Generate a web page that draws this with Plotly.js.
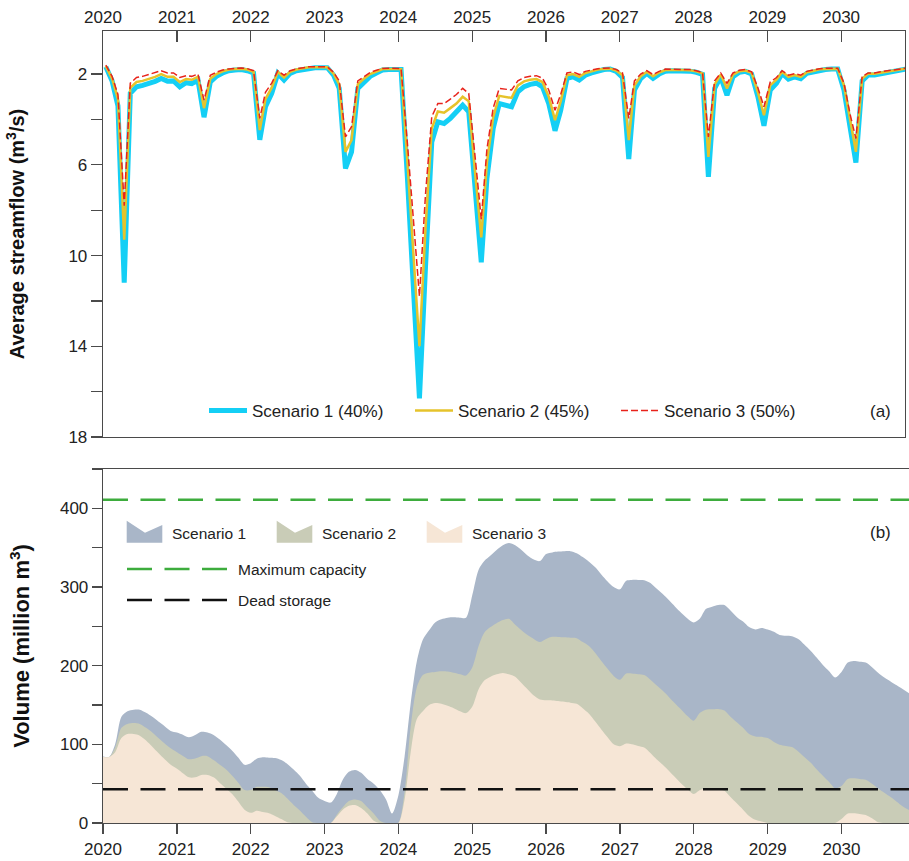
<!DOCTYPE html>
<html>
<head>
<meta charset="utf-8">
<script src="https://cdn.plot.ly/plotly-3.0.1.min.js"></script>
<style>html,body{margin:0;padding:0;background:#fff;}</style>
</head>
<body>
<div id="chart" style="width:909px;height:861px;"></div>
<script>
// ---------- DATA ----------
// Average monthly streamflow (m3/s), Jan 2020 .. Nov 2030
const streamS1 = [1.68,2.3,3.4,11.2,2.85,2.56,2.5,2.42,2.32,2.19,2.31,2.3,
  2.56,2.38,2.42,2.26,3.9,2.34,2.1,1.95,1.85,1.82,1.80,1.85,
  1.95,4.9,3.44,2.85,1.97,2.26,1.97,1.85,1.80,1.72,1.72,1.72,
  1.72,2.04,2.63,6.16,5.43,2.63,2.34,2.1,1.95,1.82,1.80,1.78,
  1.80,6.5,11.5,16.3,10.5,5.0,4.1,4.18,3.95,3.7,3.37,3.66,
  7.0,10.3,6.6,4.4,3.3,3.35,3.44,2.78,2.55,2.45,2.4,2.56,
  3.3,4.5,3.6,2.19,2.12,2.26,2.05,1.95,1.85,1.80,1.78,1.88,
  2.15,5.75,2.7,2.2,1.97,2.19,2.0,1.87,1.85,1.85,1.86,1.87,
  1.92,2.01,6.53,2.63,2.12,2.93,2.12,1.92,1.88,2.0,3.0,4.28,
  2.71,2.4,1.97,2.22,2.12,2.2,1.97,1.9,1.82,1.80,1.78,1.78,
  2.7,4.5,5.9,2.3,2.04,2.04,1.99,1.94,1.89,1.84,1.78];
const streamS2 = [1.65,2.2,3.1,9.3,2.6,2.35,2.3,2.22,2.12,2.0,2.12,2.12,
  2.35,2.22,2.25,2.12,3.5,2.2,2.0,1.88,1.8,1.78,1.76,1.8,
  1.9,4.47,3.1,2.6,1.9,2.15,1.9,1.8,1.76,1.7,1.7,1.7,
  1.7,1.98,2.45,5.43,4.91,2.45,2.2,2.0,1.88,1.78,1.77,1.76,
  1.78,5.8,10.0,14.0,8.8,4.4,3.65,3.7,3.5,3.3,3.0,3.2,
  6.3,9.2,5.9,3.9,2.96,3.0,3.05,2.5,2.32,2.25,2.22,2.35,
  3.0,4.03,3.2,2.05,2.0,2.12,1.95,1.88,1.8,1.77,1.76,1.84,
  2.05,4.91,2.5,2.1,1.9,2.1,1.93,1.82,1.81,1.81,1.82,1.83,
  1.88,1.97,5.65,2.45,2.02,2.63,2.02,1.87,1.84,1.95,2.8,3.81,
  2.5,2.25,1.9,2.12,2.04,2.12,1.92,1.86,1.79,1.77,1.76,1.76,
  2.5,4.1,5.43,2.2,1.98,1.98,1.94,1.9,1.85,1.81,1.76];
const streamS3 = [1.6,2.1,2.9,7.8,2.4,2.15,2.1,2.02,1.95,1.85,1.95,1.95,
  2.15,2.07,2.1,2.0,3.15,2.05,1.92,1.82,1.77,1.75,1.73,1.76,
  1.85,3.95,2.8,2.4,1.85,2.05,1.85,1.77,1.73,1.68,1.68,1.68,
  1.68,1.92,2.3,4.77,4.32,2.3,2.1,1.93,1.83,1.75,1.74,1.73,
  1.75,5.0,8.5,11.8,7.3,3.88,3.3,3.3,3.1,2.9,2.63,2.85,
  5.6,8.4,5.3,3.5,2.63,2.66,2.7,2.3,2.15,2.1,2.07,2.18,
  2.7,3.59,2.9,1.95,1.9,2.02,1.88,1.82,1.76,1.74,1.73,1.8,
  1.95,3.95,2.3,2.0,1.85,2.02,1.88,1.78,1.78,1.78,1.79,1.8,
  1.85,1.93,4.77,2.3,1.95,2.41,1.95,1.83,1.8,1.9,2.6,3.44,
  2.35,2.15,1.85,2.05,1.98,2.05,1.88,1.82,1.76,1.74,1.74,1.74,
  2.4,3.8,4.84,2.1,1.95,1.95,1.9,1.86,1.82,1.78,1.74];

// Reservoir volume (million m3), Jan 2020 .. Dec 2030
const volumeS1 = [84.5,84,100,135,142,144,144,140,135,129,123,117,
  115,112,109,112,116,115,112,106,99,92,83,74,
  76,82,83.5,83,82.5,80,75,68,60,50,41,32,
  28,26,36,55,65,67.5,64,56,50,42,30,12,
  35,85,150,205,233,245,255,259,261,261.5,261,261,
  290,322,333,340,347,353,356,353,347,340,335,333,
  342,344,345,345.5,345.6,343,338,332,325,316,307,300,
  297,308,309,309,308.7,305,298,291,283,275,267,260,
  255,260,272,275,277,277,270,262,256,249,246,248,
  246,243,239,238,237.5,234,227,219,210,201,193,185,
  192,204,206,205,204,198,191,185,180,175,170,165];
const volumeS2 = [84,84,96,121,126,127,126,121,115,108,101,95,
  90,85,81,82,85,85,80,74,68,60,51,42,
  42,46,46,45.5,42,38,31,23,16,8,1,0,
  0,0,10,20,28,30,28,20,12,3,0,0,
  0,40,120,172,188,191,192,193,192.7,191,189,187.5,
  198,225,242,249,254,258,259.5,252,245,239,234,230,
  234,236.6,236.5,236,235.5,235,230,225,216,206,196,187,
  182,190,190,189,188,182,175,168,160,152,144,136,
  130,140,144,144.5,145,143,135,128,121,113,110,109.5,
  108,103,99.5,98,96.5,91,84,77,68,60,52,44,
  47,56,57,56,55,50,44,38.5,33,27,21,16.6];
const volumeS3 = [84,84,90,108,113,113,111,105,97,89,81,74,
  69,63,58,58,61,61,58,51,44,37,27,17,
  13,15.7,14,12.5,9,5,1,0,0,0,0,0,
  0,0,8,17,22,22.9,19,12,3,0,0,0,
  0,30,88,132,142,150,152.5,151.5,149,146,142,139.7,
  148,170,181,186,189,190.7,189,186,178,170,162,157,
  156,155.8,155,154,153,151.6,146,139,129,119,109,100,
  97.5,101,100,98,96,89,81,74,66,58,50,43,
  37,42,44,43.5,43,41,33,25,17,9,4,2,
  0,0,0,0,0,0,0,0,0,0,0,0,
  5,12,12.3,11.5,10.2,6,1,0,0,0,0,0];

const maxCapacity = 411;   // million m3
const deadStorage = 43;    // million m3
const yearLabels = ['2020','2021','2022','2023','2024','2025','2026','2027','2028','2029','2030'];
const flowNames = ['Scenario 1 (40%)','Scenario 2 (45%)','Scenario 3 (50%)'];
const volNames = ['Scenario 1','Scenario 2','Scenario 3'];
const lineNames = ['Maximum capacity','Dead storage'];
const panelTags = ['(a)','(b)'];

// ---------- HELPERS ----------
function monthDate(i, day){
  const y = 2020 + Math.floor(i/12);
  const m = (i % 12) + 1;
  return y + '-' + String(m).padStart(2,'0') + '-' + day;
}
const flowDates = streamS1.map((_, i) => monthDate(i, '15'));
const volDates = volumeS1.map((_, i) => monthDate(i, '01'));
const yearTickVals = yearLabels.map(y => y + '-01-01');
const volStart = volDates[0], volEnd = volDates[volDates.length-1];

const FONT = 'Arial, "Liberation Sans", Helvetica, sans-serif';
const AX = '#4a4a4a';
const cyan = '#14cff5', gold = '#e6c32b', red = '#e8231b';
const areaBlue = '#a9b6c8', areaGreen = '#c9ccb7', areaPeach = '#f6e6d6';
const green = '#3dac3d';

// pixel helpers for paper positioning (layout only)
const ML = 103, MT = 31, MB = 38, W = 909, H = 861;
const PW = W - ML, PH = H - MT - MB;
const px = v => (v - ML) / PW;
const py = v => (H - MB - v) / PH;

// ---------- TRACES ----------
const traces = [
  {x: flowDates, y: streamS1, name: flowNames[0], type:'scatter', mode:'lines',
   line:{color:cyan, width:5}, xaxis:'x', yaxis:'y', showlegend:true},
  {x: flowDates, y: streamS2, name: flowNames[1], type:'scatter', mode:'lines',
   line:{color:gold, width:2.5}, xaxis:'x', yaxis:'y', showlegend:true},
  {x: flowDates, y: streamS3, name: flowNames[2], type:'scatter', mode:'lines',
   line:{color:red, width:1.5, dash:'7px,3px'}, xaxis:'x', yaxis:'y', showlegend:true},

  {x: volDates, y: volumeS1, name: volNames[0], type:'scatter', mode:'lines', fill:'tozeroy',
   fillcolor: areaBlue, line:{width:0, color:areaBlue, shape:'spline', smoothing:0.8},
   xaxis:'x2', yaxis:'y2', showlegend:false},
  {x: volDates, y: volumeS2, name: volNames[1], type:'scatter', mode:'lines', fill:'tozeroy',
   fillcolor: areaGreen, line:{width:0, color:areaGreen, shape:'spline', smoothing:0.8},
   xaxis:'x2', yaxis:'y2', showlegend:false},
  {x: volDates, y: volumeS3, name: volNames[2], type:'scatter', mode:'lines', fill:'tozeroy',
   fillcolor: areaPeach, line:{width:0, color:areaPeach, shape:'spline', smoothing:0.8},
   xaxis:'x2', yaxis:'y2', showlegend:false},
  {x: [volStart, volEnd], y: [maxCapacity, maxCapacity], name:lineNames[0], type:'scatter', mode:'lines',
   line:{color:green, width:2.5, dash:'25px,12.5px'}, xaxis:'x2', yaxis:'y2', showlegend:false},
  {x: [volStart, volEnd], y: [deadStorage, deadStorage], name:lineNames[1], type:'scatter', mode:'lines',
   line:{color:'#111', width:2.5, dash:'25px,12.5px'}, xaxis:'x2', yaxis:'y2', showlegend:false}
];

// ---------- CUSTOM LEGEND FOR PANEL (b) ----------
function swatchPath(left){
  const w = 35.6;
  const pts = [[left,520.7],[left+18.3,532.7],[left+w,525],[left+w,542.7],[left,542.7]];
  return 'M' + pts.map(p => px(p[0]).toFixed(5) + ',' + py(p[1]).toFixed(5)).join(' L') + ' Z';
}
const swLeft = [126.7, 276.7, 426.7];
const swColors = [areaBlue, areaGreen, areaPeach];
const shapes = swLeft.map((l, k) => ({type:'path', xref:'paper', yref:'paper', path: swatchPath(l),
  fillcolor: swColors[k], line:{width:0}, layer:'above'}));
shapes.push({type:'line', xref:'paper', yref:'paper', x0:px(127), x1:px(227), y0:py(569), y1:py(569),
  line:{color:green, width:2.5, dash:'25px,12.5px'}});
shapes.push({type:'line', xref:'paper', yref:'paper', x0:px(127), x1:px(227), y0:py(600), y1:py(600),
  line:{color:'#111', width:2.5, dash:'25px,12.5px'}});

const legFont = {family:FONT, size:15.5, color:'#222'};
function ann(text, x, y, font, anchor){
  return {text:text, x:px(x), y:py(y), xref:'paper', yref:'paper', xanchor:anchor||'left',
    yanchor:'middle', showarrow:false, font:font};
}
const tagFont = {family:FONT, size:17, color:'#222'};
const annotations = [
  ann(volNames[0], 170, 533, legFont),
  ann(volNames[1], 320, 533, legFont),
  ann(volNames[2], 470, 533, legFont),
  ann(lineNames[0], 236, 569, legFont),
  ann(lineNames[1], 236, 600, legFont),
  ann(panelTags[0], 880, 411, tagFont, 'center'),
  ann(panelTags[1], 880, 532, tagFont, 'center')
];

const axCommon = {showgrid:false, zeroline:false, showline:true, linecolor:AX, linewidth:1.3,
  tickcolor:AX, tickwidth:1.3, tickfont:{family:FONT, size:17, color:'#222'}, fixedrange:true};

const layout = {
  width: W, height: H,
  margin: {l:ML, r:0, t:MT, b:MB, pad:0},
  paper_bgcolor:'#ffffff', plot_bgcolor:'rgba(0,0,0,0)',
  font: {family:FONT, size:17, color:'#222'},
  showlegend: true,
  legend: {orientation:'h', x:px(204), xanchor:'left', y:py(411), yanchor:'middle',
    font:{family:FONT, size:17, color:'#222'}, bgcolor:'rgba(0,0,0,0)', borderwidth:0,
    itemwidth:38, entrywidth:153, entrywidthmode:'pixels', traceorder:'normal'},
  xaxis: Object.assign({}, axCommon, {domain:[0, (905-ML)/PW], anchor:'y', type:'date',
    range:['2020-01-01','2030-11-13'], side:'top', tickmode:'array', tickvals:yearTickVals, ticktext:yearLabels,
    ticks:'inside', ticklen:11, mirror:true}),
  yaxis: Object.assign({}, axCommon, {domain:[py(437), 1], anchor:'x', range:[18, 0.1],
    tickmode:'linear', tick0:2, dtick:4, ticks:'outside', ticklen:11, mirror:true,
    minor:{tickmode:'linear', tick0:0, dtick:2, ticks:'outside', ticklen:11, tickwidth:1.3, tickcolor:AX, showgrid:false},
    title:{text:'<b>Average streamflow (m<sup>3</sup>/s)</b>', font:{family:FONT, size:20, color:'#111'}, standoff:38}}),
  xaxis2: Object.assign({}, axCommon, {domain:[0, 1], anchor:'y2', type:'date',
    range:[volStart, volEnd], tickmode:'array', tickvals:yearTickVals, ticktext:yearLabels,
    ticks:'outside', ticklen:10, mirror:true}),
  yaxis2: Object.assign({}, axCommon, {domain:[0, py(469)], anchor:'x2', range:[0, 450],
    tickmode:'linear', tick0:0, dtick:100, ticks:'outside', ticklen:10, mirror:false,
    minor:{tickmode:'linear', tick0:0, dtick:50, ticks:'outside', ticklen:10, tickwidth:1.3, tickcolor:AX, showgrid:false},
    title:{text:'<b>Volume (million m<sup>3</sup>)</b>', font:{family:FONT, size:22, color:'#111'}, standoff:24}}),
  shapes: shapes,
  annotations: annotations
};

Plotly.newPlot('chart', traces, layout, {displayModeBar:false, staticPlot:true});
</script>
</body>
</html>
